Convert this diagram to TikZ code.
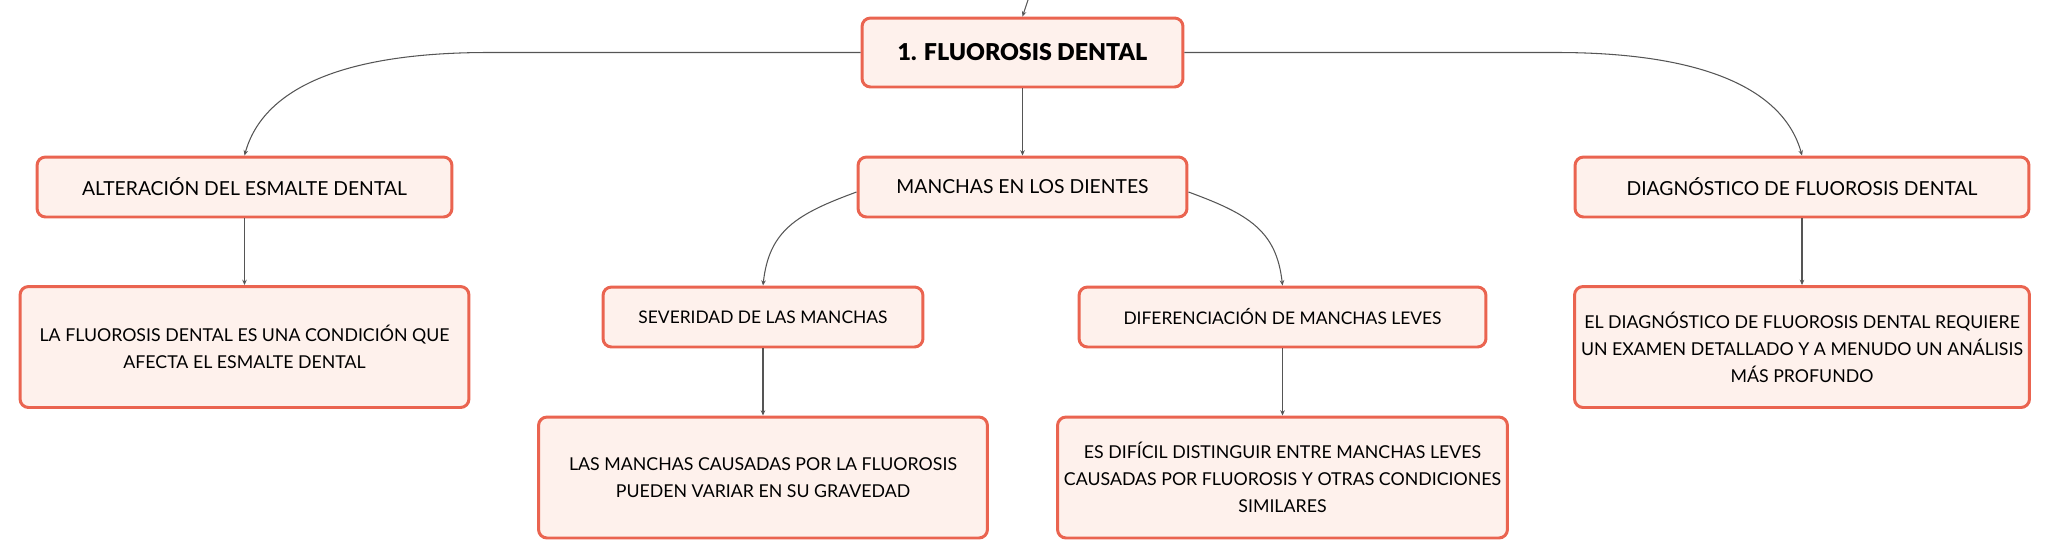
\documentclass[tikz,border=0pt]{standalone}
\usepackage{fontspec}
\setmainfont{Lato}
\newfontfamily\heavyfont{Lato Black}
\usetikzlibrary{arrows.meta}
\definecolor{boxline}{HTML}{EA6450}
\definecolor{boxfill}{HTML}{FEF1EC}
\definecolor{linkgray}{HTML}{555555}
\begin{document}
\begin{tikzpicture}[x=0.02cm,y=-0.02cm,
        topic/.style={draw=boxline,fill=boxfill,line width=1.7pt,rounded corners=0.17cm,
            align=center,inner sep=0pt,minimum height=1.2cm,font=\fontsize{11}{15}\selectfont},
        detail/.style={topic,minimum height=2.42cm,minimum width=9cm,
            font=\fontsize{10.1}{15.3}\selectfont},
        link/.style={draw=linkgray,line width=0.6pt,-{Stealth[length=3pt,width=2.6pt]}}]
        \useasboundingbox (0,0) rectangle (2048,559);
        \node[topic,minimum width=6.42cm,minimum height=1.38cm,
            font=\fontsize{13.2}{15}\heavyfont] (root) at (1022.5,52.5) {1. FLUOROSIS DENTAL};
        \node[topic,minimum width=8.3cm] (alt) at (244.5,187) {ALTERACIÓN DEL ESMALTE DENTAL};
        \node[topic,minimum width=6.58cm] (man) at (1022.5,187) {MANCHAS EN LOS DIENTES};
        \node[topic,minimum width=9.08cm] (diag) at (1802,187) {DIAGNÓSTICO DE FLUOROSIS DENTAL};
        \node[detail,minimum width=8.98cm] (altd) at (244.5,347)
            {LA FLUOROSIS DENTAL ES UNA CONDICIÓN QUE\\AFECTA EL ESMALTE DENTAL};
        \node[topic,minimum width=6.4cm,font=\fontsize{9.9}{15}\selectfont] (sev) at (763,317)
            {SEVERIDAD DE LAS MANCHAS};
        \node[topic,minimum width=8.14cm,font=\fontsize{9.9}{15}\selectfont] (dif) at (1282.5,317)
            {DIFERENCIACIÓN DE MANCHAS LEVES};
        \node[detail,minimum width=9.1cm] (diagd) at (1802,347)
            {EL DIAGNÓSTICO DE FLUOROSIS DENTAL REQUIERE\\UN EXAMEN DETALLADO Y A MENUDO UN ANÁLISIS\\MÁS PROFUNDO};
        \node[detail,minimum width=8.98cm] (sevd) at (763,477.5)
            {LAS MANCHAS CAUSADAS POR LA FLUOROSIS\\PUEDEN VARIAR EN SU GRAVEDAD};
        \node[detail,minimum width=9cm] (difd) at (1282.5,477.5)
            {ES DIFÍCIL DISTINGUIR ENTRE MANCHAS LEVES\\CAUSADAS POR FLUOROSIS Y OTRAS CONDICIONES\\SIMILARES};
        \coordinate (parent) at (1028,0);
        % links
        \draw[link] (parent) -- (root.north);
        \draw[link] (root.west) -- ++(-372,0)
            .. controls +(-150,0) and +(18,-65) .. (alt.north);
        \draw[link] (root.east) -- ++(372,0)
            .. controls +(150,0) and +(-18,-65) .. (diag.north);
        \draw[link] (root.south) -- (man.north);
        \draw[link] ([yshift=-0.1cm]man.west) .. controls +(-60,22) and +(6,-55) .. (sev.north);
        \draw[link] ([yshift=-0.1cm]man.east) .. controls +(60,22) and +(-6,-55) .. (dif.north);
        \draw[link] (alt.south) -- (altd.north);
        \draw[link] (sev.south) -- (sevd.north);
        \draw[link] (dif.south) -- (difd.north);
        \draw[link] (diag.south) -- (diagd.north);
    \end{tikzpicture}
\end{document}
